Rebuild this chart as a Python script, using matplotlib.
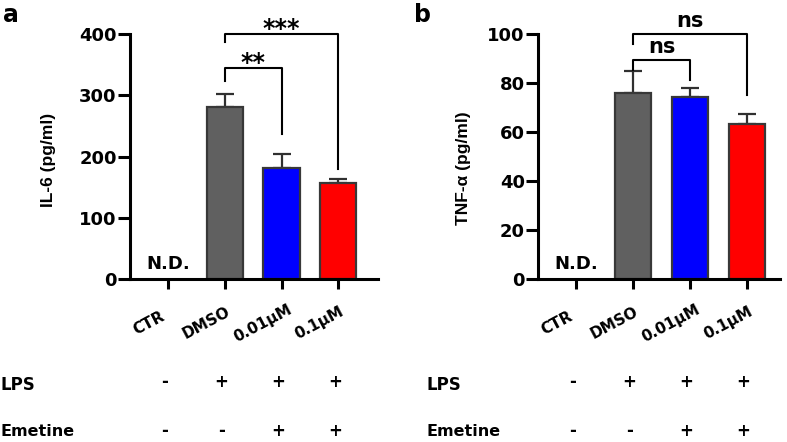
import numpy as np
import matplotlib
matplotlib.use("Agg")
import matplotlib.pyplot as plt

# data
groups = ["CTR", "DMSO", "0.01μM", "0.1μM"]
lps = ["-", "+", "+", "+"]
emetine = ["-", "-", "+", "+"]
colors = ["#606060", "#606060", "#0000FF", "#FF0000"]

il6_mean = [np.nan, 281, 182, 157]
il6_err = [0, 21, 22, 6]
tnf_mean = [np.nan, 76, 74.3, 63.4]
tnf_err = [0, 9, 3.7, 3.8]

# brackets: (x1, x2, top, left leg end, right leg end, label)
il6_brackets = [(1, 3, 400, 387, 180, "***"), (1, 2, 345, 323, 237, "**")]
tnf_brackets = [(1, 3, 100, 96, 75, "ns"), (1, 2, 89.4, 85.3, 81.2, "ns")]

W, H = 787, 442
BOLD = dict(fontweight="bold", family="DejaVu Sans")

fig = plt.figure(figsize=(W / 100, H / 100), dpi=100)
fig.patch.set_facecolor("white")


def panel(left, right, xmax, mean, err, ymax, yticks, brackets, ylabel, ylab_x, ylab_y, lab_x):
    ax = fig.add_axes([left / W, 1 - 279 / H, (right - left) / W, 245 / H])
    x = np.arange(len(groups))
    ax.bar(x, mean, width=0.64, color=colors, edgecolor="#383838", linewidth=1.6, zorder=2)
    ax.errorbar(x[1:], mean[1:], yerr=[np.zeros(3), err[1:]], fmt="none", ecolor="#303030",
                elinewidth=1.6, capsize=6.5, capthick=1.6, zorder=1)
    ax.set_xlim(-0.67, xmax)
    ax.set_ylim(0, ymax)
    ax.set_yticks(yticks)
    ax.set_yticklabels([str(t) for t in yticks], fontsize=13, **BOLD)
    ax.set_xticks(x)
    ax.set_xticklabels([])
    for s in ["top", "right"]:
        ax.spines[s].set_visible(False)
    for s in ["left", "bottom"]:
        ax.spines[s].set_linewidth(2.2)
    ax.tick_params(axis="y", length=8.5, width=2.2, pad=1)
    ax.tick_params(axis="x", length=7, width=2.2)

    ax.text(0, ymax * 0.025, "N.D.", ha="center", va="bottom", fontsize=13, **BOLD)

    for x1, x2, top, l1, l2, lab in brackets:
        ax.plot([x1, x1, x2, x2], [l1, top, top, l2], color="black", lw=1.5, clip_on=False)
        if lab.startswith("*"):
            ax.text((x1 + x2) / 2, top - ymax * 0.03, lab, ha="center", va="bottom", fontsize=17, **BOLD)
        else:
            ax.text((x1 + x2) / 2, top + ymax * 0.012, lab, ha="center", va="bottom", fontsize=15, **BOLD)

    tr = ax.get_xaxis_transform()
    for i, g in enumerate(groups):
        ax.text(i - 0.33, -0.18, g, transform=tr, rotation=28, rotation_mode="anchor",
                ha="center", va="center", fontsize=11, **BOLD)
        ax.text(i - 0.06, -0.42, lps[i], transform=tr, ha="center", va="center", fontsize=12, **BOLD)
        ax.text(i - 0.06, -0.62, emetine[i], transform=tr, ha="center", va="center", fontsize=12, **BOLD)

    fig.text(ylab_x / W, 1 - ylab_y / H, ylabel, rotation=90, ha="center", va="center",
             fontsize=12.5, fontweight="bold", family="Liberation Sans")
    fig.text(lab_x / W, 1 - 385 / H, "LPS", ha="left", va="center", fontsize=12, **BOLD)
    fig.text(lab_x / W, 1 - 432 / H, "Emetine", ha="left", va="center", fontsize=11.5, **BOLD)
    return ax


panel(130, 378, 3.7, il6_mean, il6_err, 400, [0, 100, 200, 300, 400], il6_brackets,
      "IL-6 (pg/ml)", 49, 160, 0)
panel(538, 780, 3.58, tnf_mean, tnf_err, 100, [0, 20, 40, 60, 80, 100], tnf_brackets,
      "TNF-α (pg/ml)", 464, 168, 427)

fig.text(3 / W, 1 - 3 / H, "a", ha="left", va="top", fontsize=17, **BOLD)
fig.text(414 / W, 1 - 3 / H, "b", ha="left", va="top", fontsize=17, **BOLD)

fig.savefig("out.png", dpi=100)
